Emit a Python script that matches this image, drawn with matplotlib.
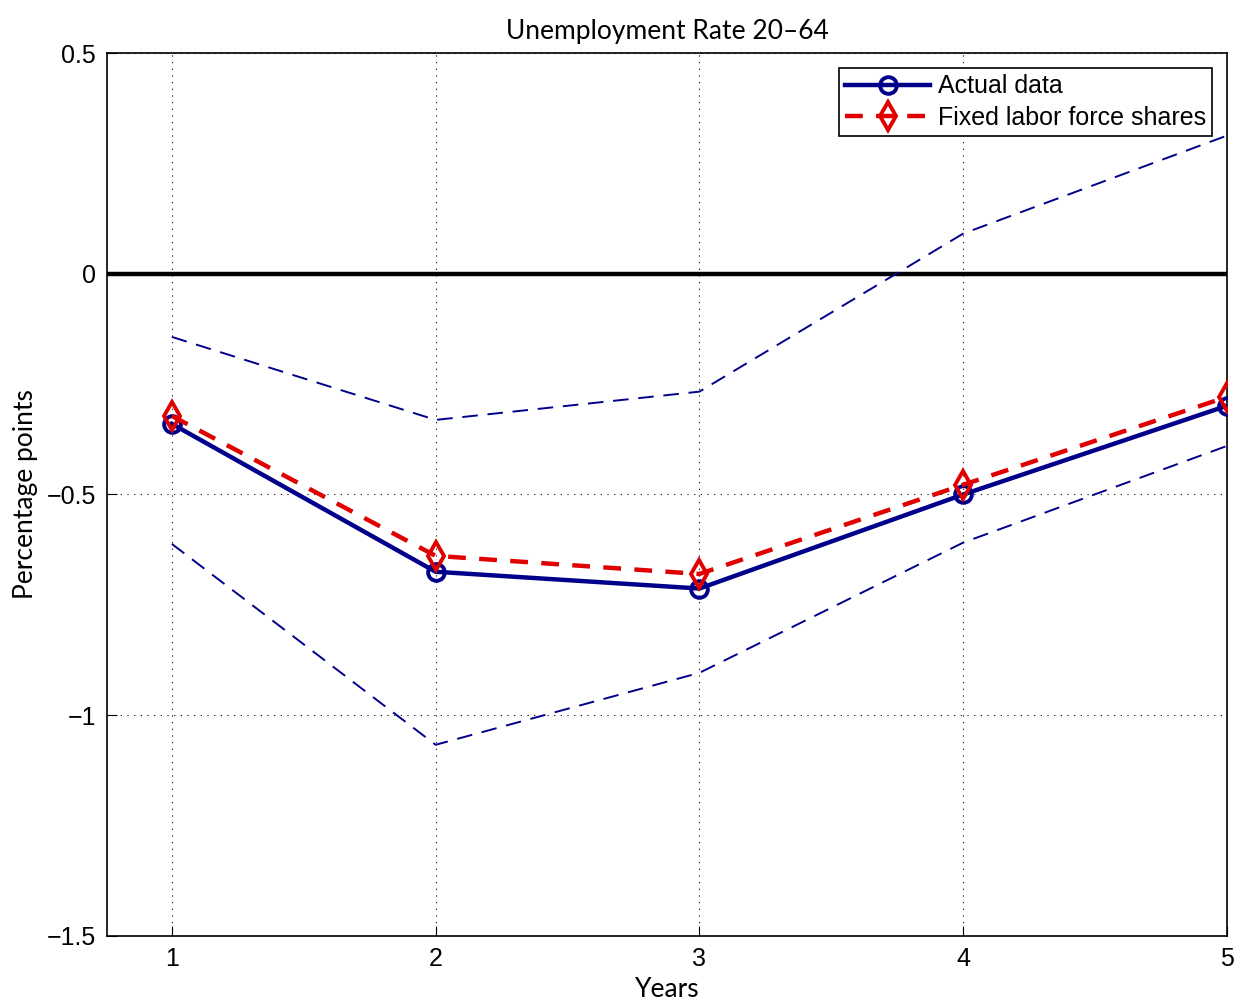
import numpy as np
import matplotlib
matplotlib.use('Agg')
import matplotlib.pyplot as plt

years = [1, 2, 3, 4, 5]
actual = [-0.340, -0.675, -0.713, -0.500, -0.299]
fixed_shares = [-0.322, -0.639, -0.680, -0.478, -0.279]
upper_band = [-0.143, -0.331, -0.267, 0.091, 0.313]
lower_band = [-0.612, -1.067, -0.904, -0.609, -0.390]

navy = '#00008b'
red = '#e00000'

plt.rcParams['font.family'] = ['Liberation Sans', 'DejaVu Sans']

fig = plt.figure(figsize=(12.41, 10.01), dpi=100)
ax = fig.add_axes([0.0862, 0.065, 0.9025, 0.882])

ax.axhline(0, color='black', lw=3.2, zorder=2)
ax.plot(years, upper_band, color=navy, lw=1.4, dashes=(8, 5), zorder=3)
ax.plot(years, lower_band, color=navy, lw=1.4, dashes=(8, 5), zorder=3)
ax.plot(years, actual, color=navy, lw=3.2, marker='o', ms=12, mfc='none',
        mec=navy, mew=2.8, label='Actual data', zorder=4)
ax.plot(years, fixed_shares, color=red, lw=3.2, dashes=(4, 3), marker='d', ms=14,
        mfc='none', mec=red, mew=2.8, label='Fixed labor force shares', zorder=5)

ax.set_xlim(0.754, 5)
ax.set_ylim(-1.5, 0.5)
ax.set_xticks(years)
ax.set_yticks([-1.5, -1, -0.5, 0, 0.5])
ax.set_yticklabels(['\u22121.5', '\u22121', '\u22120.5', '0', '0.5'])
ax.tick_params(direction='in', labelsize=18, length=7, top=False, right=False, pad=8)
ax.grid(True, color='black', linestyle=(0, (1, 5)), lw=0.8)
for s in ax.spines.values():
    s.set_linewidth(1.2)

ax.set_title('Unemployment Rate 20\u201364', fontsize=19, family=['Lato', 'DejaVu Sans'], pad=10)
ax.set_xlabel('Years', fontsize=19, family=['Lato', 'DejaVu Sans'], labelpad=4)
ax.set_ylabel('Percentage points', fontsize=19, family=['Lato', 'DejaVu Sans'], labelpad=6)

leg = ax.legend(loc='upper right', fontsize=18, fancybox=False, framealpha=1,
                edgecolor='black', handlelength=3.4, borderaxespad=0.6,
                borderpad=0.25, labelspacing=0.3, handletextpad=0.3)
leg.get_frame().set_linewidth(1.2)

fig.savefig('out.png', dpi=100)
